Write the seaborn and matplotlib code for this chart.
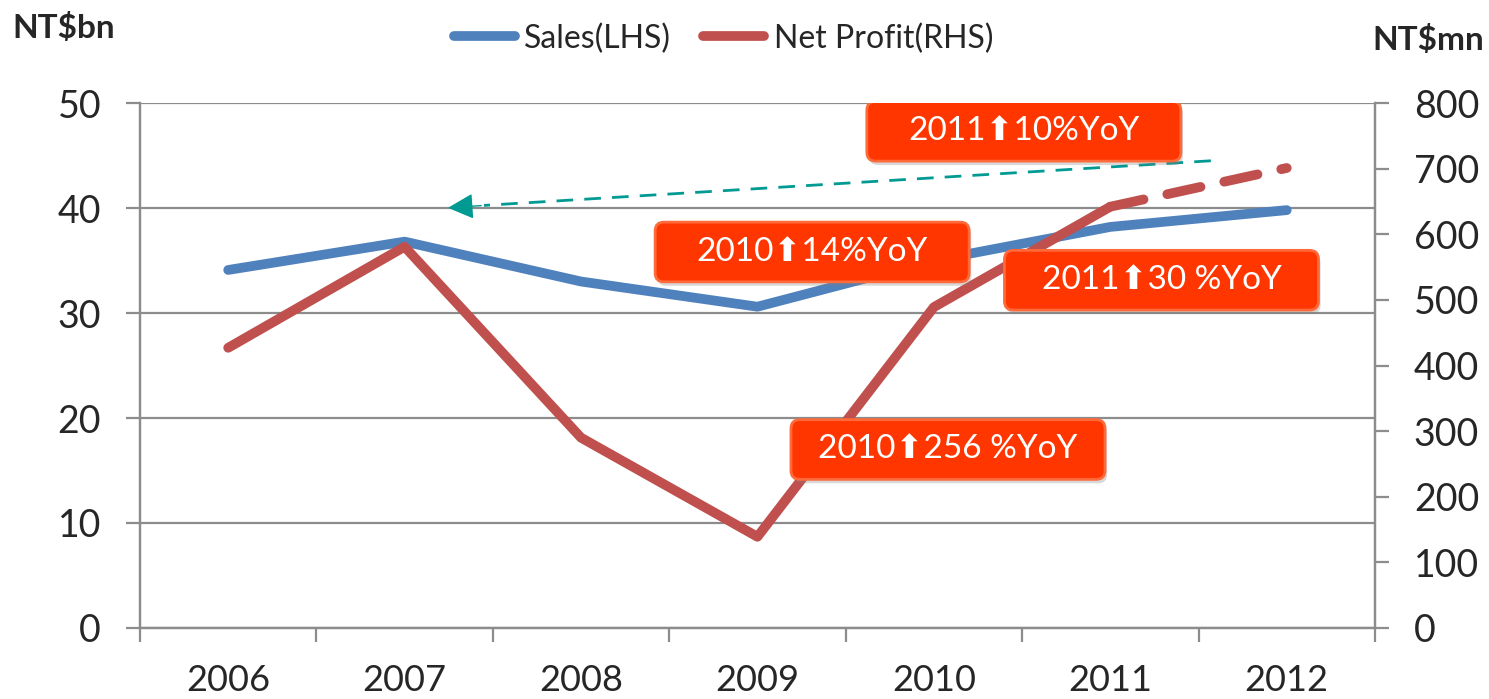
import numpy as np
import pandas as pd
import matplotlib
matplotlib.use("Agg")
import matplotlib.pyplot as plt
import seaborn as sns
from matplotlib.patches import FancyBboxPatch

years = [2006, 2007, 2008, 2009, 2010, 2011, 2012]
sales = [34.1, 36.8, 33.0, 30.6, 35.0, 38.2, 39.8]          # NT$bn, LHS
net_profit = [427, 581, 290, 139, 489, 642, 701]             # NT$mn, RHS

box_texts = ["2011\u2b0610%YoY", "2010\u2b0614%YoY", "2011\u2b0630 %YoY", "2010\u2b06256 %YoY"]
box_x = [2010.51, 2009.31, 2011.29, 2010.08]
box_y = [757, 573, 530, 272]

sns.set_theme(style="white")
plt.rcParams['font.family'] = ['Lato', 'DejaVu Sans']

blue = "#4F81BD"
red = "#C0504D"
grey = "#8C8C8C"

df = pd.DataFrame({"year": years, "sales": sales, "np": net_profit})

fig = plt.figure(figsize=(14.89, 6.99), dpi=100)
ax = fig.add_axes([0.094, 0.1016, 0.8294, 0.751])
ax2 = ax.twinx()

sns.lineplot(data=df, x="year", y="sales", ax=ax, color=blue, lw=7,
             solid_capstyle="round", legend=False)
sns.lineplot(data=df.iloc[:6], x="year", y="np", ax=ax2, color=red, lw=7,
             solid_capstyle="round", legend=False)
sns.lineplot(data=df.iloc[5:], x="year", y="np", ax=ax2, color=red, lw=7,
             legend=False)
ax2.lines[-1].set_linestyle((0, (3.5, 2.5)))
ax2.lines[-1].set_dash_capstyle("round")

ax.set_xlim(2005.5, 2012.5)
ax.set_ylim(0, 50)
ax2.set_ylim(0, 800)
ax.set_yticks(np.arange(0, 51, 10))
ax2.set_yticks(np.arange(0, 801, 100))
ax.set_xticks(years)
ax.set_xticks(np.arange(2005.5, 2013, 1), minor=True)
ax.set_xlabel("")
ax.set_ylabel("")
ax2.set_ylabel("")

ax.grid(axis="y", color=grey, lw=1.6)
ax.tick_params(axis="x", which="major", length=0, labelsize=26, pad=26)
ax.tick_params(axis="x", which="minor", bottom=True, length=10, width=1.6, color=grey, direction="out")
ax.tick_params(axis="y", left=True, length=10, width=1.6, color=grey, labelsize=27, pad=18)
ax2.tick_params(axis="y", right=True, length=10, width=1.6, color=grey, labelsize=27, pad=18)

for a in (ax, ax2):
    a.spines["top"].set_visible(False)
    for s in ("left", "right", "bottom"):
        a.spines[s].set_color(grey)
        a.spines[s].set_linewidth(1.6)

# teal dashed arrow
ax2.plot([2011.57, 2007.45], [712, 644], color="#009A93", lw=2, ls=(0, (6, 4)))
ax2.annotate("", xy=(2007.23, 640), xytext=(2007.45, 644),
             arrowprops=dict(arrowstyle="-|>", color="#009A93", lw=1, mutation_scale=40))

# orange callouts
bw, bh = 1.78, 91
asp = 269
for t, x, y in zip(box_texts, box_x, box_y):
    sh = FancyBboxPatch((x - bw / 2 + 0.012, y - bh / 2 - 6), bw, bh,
                        boxstyle="round,pad=0,rounding_size=0.05", mutation_aspect=asp,
                        fc="#808080", ec="none", alpha=0.3, zorder=5)
    ax2.add_patch(sh)
    b = FancyBboxPatch((x - bw / 2, y - bh / 2), bw, bh,
                       boxstyle="round,pad=0,rounding_size=0.05", mutation_aspect=asp,
                       fc="#FF3600", ec="#FF6A3A", lw=2, zorder=6)
    ax2.add_patch(b)
    ax2.text(x, y, t, color="white", fontsize=24, ha="center", va="center", zorder=7)

handles = [plt.Line2D([], [], color=blue, lw=7, solid_capstyle="round"),
           plt.Line2D([], [], color=red, lw=7, solid_capstyle="round")]
fig.legend(handles, ["Sales(LHS)", "Net Profit(RHS)"], loc="center", bbox_to_anchor=(0.486, 0.945),
           ncol=2, frameon=False, fontsize=23, handlelength=1.9, handletextpad=0.3, columnspacing=1.0)

fig.text(0.008, 0.96, "NT$bn", fontsize=24, fontweight="bold", ha="left", va="center")
fig.text(0.997, 0.943, "NT$mn", fontsize=24, fontweight="bold", ha="right", va="center")

fig.savefig("out.png", dpi=100)
